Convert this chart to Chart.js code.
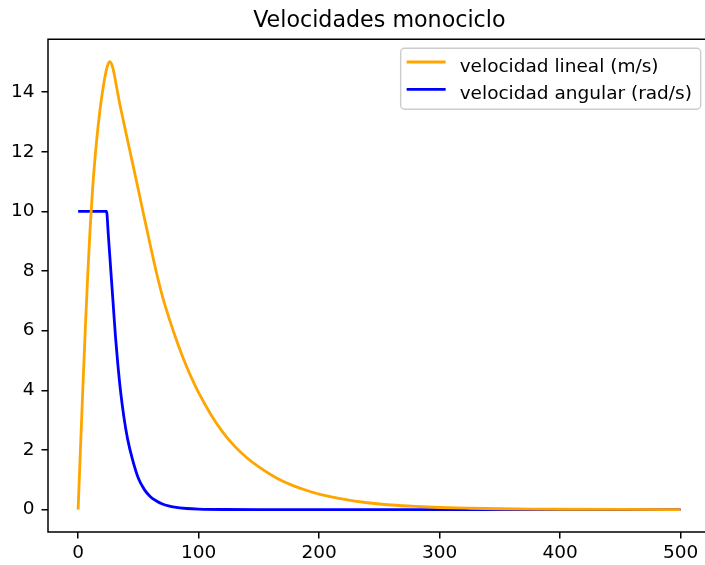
<!DOCTYPE html>
<html>
<head>
<meta charset="utf-8">
<title>Velocidades monociclo</title>
<script src="https://cdn.jsdelivr.net/npm/chart.js@4.4.1/dist/chart.umd.min.js"></script>
<style>
  html, body { margin: 0; padding: 0; background: #fff; overflow: hidden; }
  canvas { display: block; }
</style>
</head>
<body>
<canvas id="grafica" width="705" height="565"></canvas>
<script>
// Tiempo y velocidad lineal (m/s)
const tiempoLineal = [0, 2, 4, 6, 8, 10, 12, 14, 16, 18, 20, 22, 24, 26, 28, 30, 32, 34, 36, 40, 45, 50, 55, 60, 65, 70, 75, 80, 85, 90, 95, 100, 110, 120, 130, 140, 150, 160, 170, 180, 190, 200, 220, 240, 260, 280, 300, 325, 350, 375, 400, 450, 500];
const velocidadLineal = [0, 2.1, 4.15, 6.1, 7.88, 9.45, 10.75, 11.78, 12.63, 13.35, 13.95, 14.45, 14.83, 15.02, 14.92, 14.6, 14.15, 13.72, 13.33, 12.58, 11.65, 10.72, 9.78, 8.85, 7.95, 7.15, 6.48, 5.87, 5.31, 4.8, 4.34, 3.92, 3.2, 2.6, 2.12, 1.74, 1.43, 1.17, 0.95, 0.78, 0.64, 0.52, 0.35, 0.23, 0.155, 0.105, 0.07, 0.045, 0.028, 0.018, 0.012, 0.005, 0.002];

// Tiempo y velocidad angular (rad/s)
const tiempoAngular = [0, 23.6, 25, 27, 29, 31, 33, 35, 38, 41, 45, 50, 55, 60, 65, 70, 75, 80, 90, 100, 120, 150, 200, 300, 400, 500];
const velocidadAngular = [10, 10, 9.25, 8.1, 6.95, 5.8, 4.85, 4.05, 3.1, 2.38, 1.7, 1.05, 0.67, 0.43, 0.29, 0.19, 0.125, 0.082, 0.037, 0.016, 0.003, 0.0005, 0, 0, 0, 0];

const etiquetas = ['velocidad lineal (m/s)', 'velocidad angular (rad/s)'];
const colores = ['#FFA500', '#0000FF'];
const marcasX = [0, 100, 200, 300, 400, 500];
const marcasY = [0, 2, 4, 6, 8, 10, 12, 14];
const titulo = 'Velocidades monociclo';
// Límites de los ejes: el eje x llega hasta 525, pero el lienzo se corta en ~520
const limitesX = [-25, 525];
const visibleX = 520.3;
const limitesY = [-0.751, 15.77];

const FUENTE = '"DejaVu Sans", "Liberation Sans", sans-serif';

// Borde derecho real de los ejes (fuera del lienzo)
const bordeDerecho = (chart) => chart.scales.x.getPixelForValue(limitesX[1]);

// Marco de los ejes: izquierda, arriba y abajo (el lado derecho queda fuera)
const marco = {
  id: 'marco',
  afterDraw(chart) {
    const { ctx, chartArea: a } = chart;
    const r = Math.min(bordeDerecho(chart), chart.width);
    ctx.save();
    ctx.strokeStyle = '#000';
    ctx.lineWidth = 1.5;
    ctx.lineCap = 'square';
    ctx.beginPath();
    ctx.moveTo(r, a.top);
    ctx.lineTo(a.left, a.top);
    ctx.lineTo(a.left, a.bottom);
    ctx.lineTo(r, a.bottom);
    ctx.stroke();
    ctx.restore();
  }
};

// Título centrado sobre los ejes completos
const cabecera = {
  id: 'cabecera',
  afterDraw(chart) {
    const { ctx, chartArea: a } = chart;
    const cx = (a.left + bordeDerecho(chart)) / 2;
    ctx.save();
    ctx.font = '22.2px ' + FUENTE;
    ctx.fillStyle = '#000';
    ctx.textAlign = 'center';
    ctx.textBaseline = 'alphabetic';
    ctx.fillText(titulo, cx, 26.7);
    ctx.restore();
  }
};

// Leyenda en la esquina superior derecha, dentro de los ejes
const leyenda = {
  id: 'leyenda',
  afterDraw(chart) {
    const { ctx, chartArea: a } = chart;
    const w = 300, h = 61;
    const x0 = bordeDerecho(chart) - 10 - w, y0 = a.top + 9;
    ctx.save();
    ctx.beginPath();
    ctx.roundRect(x0, y0, w, h, 4);
    ctx.fillStyle = 'rgba(255,255,255,0.8)';
    ctx.fill();
    ctx.strokeStyle = '#cccccc';
    ctx.lineWidth = 1.4;
    ctx.stroke();
    ctx.font = '18.5px ' + FUENTE;
    ctx.textBaseline = 'alphabetic';
    chart.data.datasets.forEach((ds, i) => {
      const yy = y0 + 13.7 + i * 27.3;
      ctx.beginPath();
      ctx.moveTo(x0 + 6, yy);
      ctx.lineTo(x0 + 45, yy);
      ctx.strokeStyle = ds.borderColor;
      ctx.lineWidth = ds.borderWidth;
      ctx.stroke();
      ctx.fillStyle = '#000';
      ctx.fillText(ds.label, x0 + 59, yy + 9.5);
    });
    ctx.restore();
  }
};

const puntos = (xs, ys) => xs.map((x, i) => ({ x, y: ys[i] }));

new Chart(document.getElementById('grafica'), {
  type: 'line',
  data: {
    datasets: [
      {
        label: etiquetas[0],
        data: puntos(tiempoLineal, velocidadLineal),
        borderColor: colores[0],
        backgroundColor: colores[0],
        borderWidth: 2.8,
        pointRadius: 0,
        cubicInterpolationMode: 'monotone',
        fill: false
      },
      {
        label: etiquetas[1],
        data: puntos(tiempoAngular, velocidadAngular),
        borderColor: colores[1],
        backgroundColor: colores[1],
        borderWidth: 2.8,
        pointRadius: 0,
        cubicInterpolationMode: 'monotone',
        fill: false
      }
    ]
  },
  options: {
    responsive: false,
    animation: false,
    layout: { padding: { top: 39.3, left: 0, right: 0, bottom: 0 } },
    plugins: {
      legend: { display: false },
      tooltip: { enabled: false },
      title: { display: false }
    },
    scales: {
      x: {
        type: 'linear',
        min: limitesX[0],
        max: visibleX,
        afterBuildTicks: (s) => { s.ticks = marcasX.map(v => ({ value: v })); },
        afterFit: (s) => { s.height = 33; },
        border: { display: false },
        grid: { drawOnChartArea: false, drawTicks: true, tickLength: 6.5, color: '#000', lineWidth: 1.5 },
        ticks: { color: '#000', padding: 4, autoSkip: false, maxRotation: 0, font: { family: FUENTE, size: 18.5 } }
      },
      y: {
        type: 'linear',
        min: limitesY[0],
        max: limitesY[1],
        afterBuildTicks: (s) => { s.ticks = marcasY.map(v => ({ value: v })); },
        afterFit: (s) => { s.width = 48; },
        border: { display: false },
        grid: { drawOnChartArea: false, drawTicks: true, tickLength: 6.5, color: '#000', lineWidth: 1.5 },
        ticks: { color: '#000', padding: 7, autoSkip: false, font: { family: FUENTE, size: 18.5 } }
      }
    }
  },
  plugins: [marco, cabecera, leyenda]
});
</script>
</body>
</html>
